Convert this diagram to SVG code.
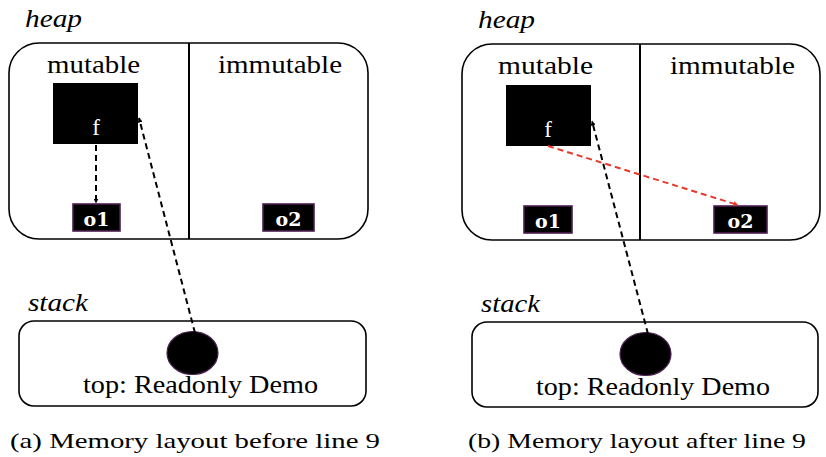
<svg xmlns="http://www.w3.org/2000/svg" width="826" height="457" viewBox="0 0 826 457">
  <style>
    .region { fill: #ffffff; stroke: #000000; stroke-width: 1.6; }
    .divider { stroke: #000000; stroke-width: 2; }
    .title { font-family: "Liberation Serif", "DejaVu Serif", serif; font-style: italic; font-size: 25px; fill: #000; }
    .label { font-family: "Liberation Serif", "DejaVu Serif", serif; font-size: 25px; fill: #000; }
    .obj { fill: #000000; }
    .ftext { font-family: "Liberation Serif", "DejaVu Serif", serif; font-size: 23px; fill: #ffffff; }
    .ref { fill: #000000; stroke: #4b1f52; stroke-width: 1.6; }
    .reftext { font-family: "DejaVu Serif", "Liberation Serif", serif; font-weight: bold; font-size: 19px; fill: #ffffff; }
    .slot { fill: #000000; stroke: #4b1f52; stroke-width: 1.2; }
    .caption { font-family: "Liberation Serif", "DejaVu Serif", serif; font-size: 22px; fill: #000; }
    .link { fill: none; stroke: #000000; stroke-width: 2; stroke-dasharray: 6 4; }
    .link-red { fill: none; stroke: #e8392b; stroke-width: 2; stroke-dasharray: 6 4; }
  </style>
  <defs>
    <marker id="head" viewBox="0 0 10 10" refX="9" refY="5" markerWidth="5" markerHeight="5" orient="auto-start-reverse" markerUnits="userSpaceOnUse">
      <path d="M0,0 L10,5 L0,10 z" fill="#000000"/>
    </marker>
    <marker id="head-red" viewBox="0 0 10 10" refX="9" refY="5" markerWidth="5" markerHeight="5" orient="auto-start-reverse" markerUnits="userSpaceOnUse">
      <path d="M0,0 L10,5 L0,10 z" fill="#e8392b"/>
    </marker>
  </defs>

  <!-- (a) before line 9 -->
  <g id="heap-a">
    <text class="title" x="25" y="27" textLength="57" lengthAdjust="spacingAndGlyphs">heap</text>
    <rect class="region" x="9" y="43" width="359" height="196" rx="30"/>
    <line class="divider" x1="189" y1="43" x2="189" y2="239"/>
    <text class="label" x="47" y="73" textLength="93" lengthAdjust="spacingAndGlyphs">mutable</text>
    <text class="label" x="218" y="73" textLength="124" lengthAdjust="spacingAndGlyphs">immutable</text>
  </g>
  <g id="f-a">
    <rect class="obj" x="53" y="83" width="85" height="61"/>
    <text class="ftext" x="96" y="135" text-anchor="middle">f</text>
  </g>
  <g id="o1-a">
    <rect class="ref" x="73" y="204" width="47" height="27"/>
    <text class="reftext" x="96.5" y="226" text-anchor="middle">o1</text>
  </g>
  <g id="o2-a">
    <rect class="ref" x="263" y="204" width="51" height="27"/>
    <text class="reftext" x="288.5" y="226" text-anchor="middle">o2</text>
  </g>
  <g id="stack-a">
    <text class="title" x="28" y="311" textLength="60" lengthAdjust="spacingAndGlyphs">stack</text>
    <rect class="region" x="19" y="321" width="347" height="85" rx="15"/>
    <ellipse class="slot" cx="192.5" cy="353" rx="25.5" ry="21.5"/>
    <text class="label" x="83" y="393" textLength="235" lengthAdjust="spacingAndGlyphs">top: Readonly Demo</text>
  </g>
  <text class="caption" x="10" y="448" textLength="370" lengthAdjust="spacingAndGlyphs">(a) Memory layout before line 9</text>

  <!-- (b) after line 9 -->
  <g id="heap-b">
    <text class="title" x="478" y="28" textLength="57" lengthAdjust="spacingAndGlyphs">heap</text>
    <rect class="region" x="462" y="44" width="358" height="196" rx="30"/>
    <line class="divider" x1="640" y1="44" x2="640" y2="240"/>
    <text class="label" x="498" y="74" textLength="95" lengthAdjust="spacingAndGlyphs">mutable</text>
    <text class="label" x="670" y="74" textLength="125" lengthAdjust="spacingAndGlyphs">immutable</text>
  </g>
  <g id="f-b">
    <rect class="obj" x="506" y="85" width="85" height="61"/>
    <text class="ftext" x="548" y="137" text-anchor="middle">f</text>
  </g>
  <g id="o1-b">
    <rect class="ref" x="524" y="206" width="48" height="27"/>
    <text class="reftext" x="548" y="228" text-anchor="middle">o1</text>
  </g>
  <g id="o2-b">
    <rect class="ref" x="714" y="206" width="53" height="27"/>
    <text class="reftext" x="740.5" y="228" text-anchor="middle">o2</text>
  </g>
  <g id="stack-b">
    <text class="title" x="481" y="312" textLength="59" lengthAdjust="spacingAndGlyphs">stack</text>
    <rect class="region" x="472" y="322" width="346" height="85" rx="15"/>
    <ellipse class="slot" cx="645.5" cy="354" rx="25.5" ry="21.5"/>
    <text class="label" x="536" y="395" textLength="234" lengthAdjust="spacingAndGlyphs">top: Readonly Demo</text>
  </g>
  <text class="caption" x="468" y="448" textLength="338" lengthAdjust="spacingAndGlyphs">(b) Memory layout after line 9</text>

  <g id="connectors">
    <line class="link" x1="96" y1="145" x2="96" y2="203" marker-end="url(#head)"/>
    <line class="link" x1="195" y1="333" x2="139" y2="118" marker-end="url(#head)"/>
    <line class="link" x1="648" y1="334" x2="592" y2="121" marker-end="url(#head)"/>
    <line class="link-red" x1="548" y1="146" x2="738" y2="205" marker-end="url(#head-red)"/>
  </g>
</svg>
